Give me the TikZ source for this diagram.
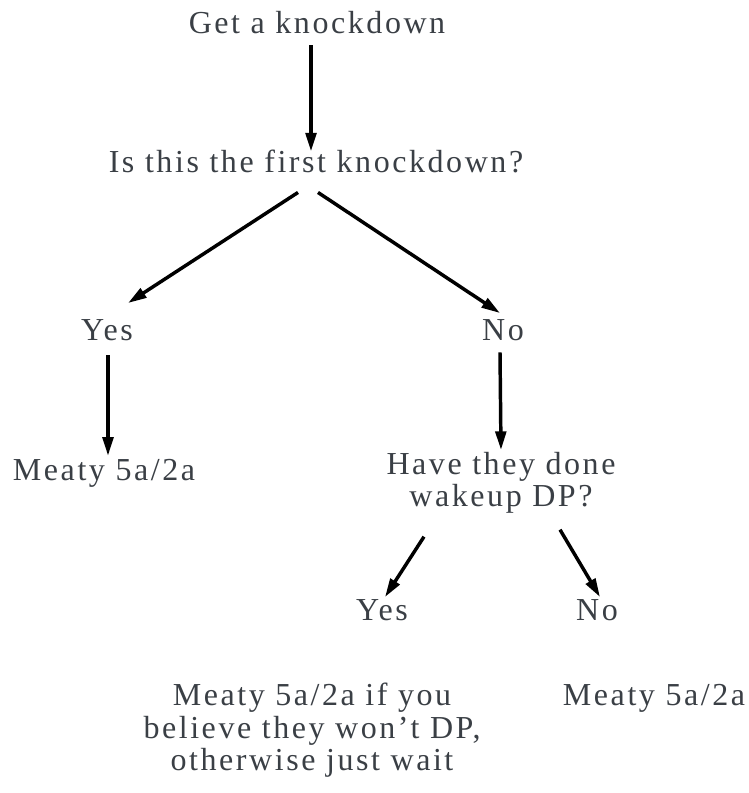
\documentclass[tikz,border=0pt]{standalone}
\usepackage{fontspec}
\setmainfont{Liberation Serif}
\newfontfamily\trackfont[LetterSpace=8]{Liberation Serif}
\usetikzlibrary{positioning,arrows.meta}
\definecolor{inkgray}{HTML}{3A3F45}

\begin{document}
\begin{tikzpicture}[x=0.75pt, y=-0.75pt,
  lbl/.style={inner sep=0pt, outer sep=0pt, text=inkgray, align=center,
    font=\trackfont\fontsize{24}{24.5}\selectfont},
  conn/.style={-{Triangle[length=14pt,width=8pt]}, line width=2.6pt}]
\useasboundingbox (0,0) rectangle (749,793);

% Start
\node (start) [lbl, anchor=base] at (317,33) {Get a knockdown};

% First question
\node (first) [lbl, anchor=base] at (316,172) {Is this the first knockdown?};

% First answers
\node (yesA) [lbl, anchor=base] at (107,340) {Yes};
\node (noA) [lbl, anchor=base] at (503,340) {No};

% Left result
\node (meatyA) [lbl, anchor=base] at (104,480) {Meaty 5a/2a};

% Second question
\node (wakeup) [lbl, anchor=north] at (501,452) {Have they done\\wakeup DP?};

% Second answers
\node (yesB) [lbl, anchor=base] at (382,620) {Yes};
\node (noB) [lbl, anchor=base] at (597,620) {No};

% Results
\node (guess) [lbl, anchor=north] at (312,683) {Meaty 5a/2a if you\\believe they won’t DP,\\otherwise just wait};
\node (meatyB) [lbl, anchor=base] at (654,705) {Meaty 5a/2a};

% Arrows
\draw[conn] ([shift={(-6,12)}]start.south) -- ([shift={(-5,2)}]first.north);
\draw[conn] ([shift={(-18,20)}]first.south) -- ([shift={(21,-16)}]yesA.north);
\draw[conn] ([shift={(2,20)}]first.south) -- ([shift={(-3,-6)}]noA.north);
\draw[conn] ([shift={(1,15)}]yesA.south) -- ([shift={(4,-3)}]meatyA.north);
\draw[conn] ([shift={(-3,12)}]noA.south) -- ([shift={(0,-2)}]wakeup.north);
\draw[conn] ([shift={(-77,23)}]wakeup.south) -- ([shift={(3,-2)}]yesB.north);
\draw[conn] ([shift={(59,16)}]wakeup.south) -- ([shift={(3,-2)}]noB.north);
\end{tikzpicture}
\end{document}
